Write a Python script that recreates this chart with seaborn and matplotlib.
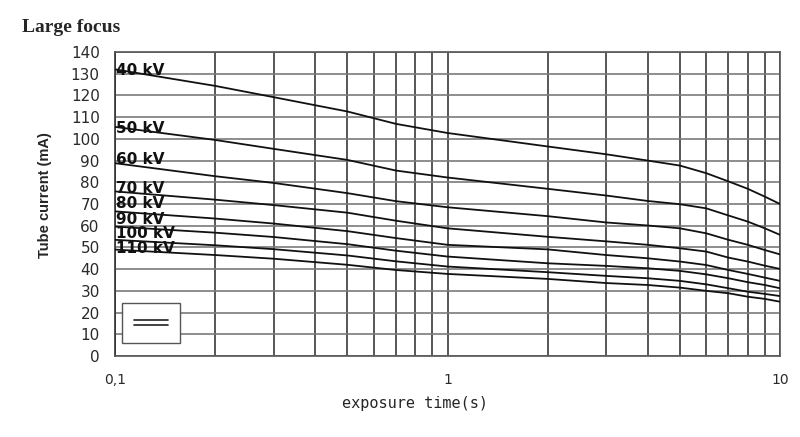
import numpy as np
import pandas as pd
import matplotlib
matplotlib.use("Agg")
import matplotlib.pyplot as plt
from matplotlib.patches import Rectangle
from matplotlib.lines import Line2D
from matplotlib.ticker import FixedLocator, NullFormatter
import seaborn as sns

# exposure time (s) and tube current (mA)
times = [0.1, 0.2, 0.3, 0.5, 0.7, 1, 2, 3, 4, 5, 6, 7, 8, 9, 10]
kv_labels = ["40 kV", "50 kV", "60 kV", "70 kV", "80 kV", "90 kV", "100 kV", "110 kV"]
ma_40 = [132.0, 124.4, 119.2, 112.6, 106.9, 102.7, 96.5, 92.9, 90.0, 87.7, 84.2, 80.4, 77.0, 73.4, 70.0]
ma_50 = [105.5, 99.5, 95.4, 90.3, 85.4, 82.2, 77.0, 73.9, 71.4, 69.9, 68.0, 64.7, 61.9, 58.8, 55.8]
ma_60 = [88.8, 82.8, 79.7, 75.0, 71.3, 68.5, 64.4, 61.5, 60.1, 58.8, 56.5, 53.5, 51.2, 48.8, 46.8]
ma_70 = [75.8, 72.0, 69.5, 66.0, 62.3, 58.8, 54.9, 52.8, 51.2, 49.6, 48.1, 45.3, 43.5, 41.6, 40.1]
ma_80 = [66.6, 63.3, 61.0, 57.5, 54.3, 51.2, 49.1, 46.5, 45.0, 43.5, 41.9, 39.6, 37.8, 36.1, 34.6]
ma_90 = [59.6, 56.8, 54.8, 51.5, 48.5, 45.8, 42.7, 41.5, 40.4, 39.2, 37.6, 35.8, 34.0, 32.7, 31.2]
ma_100 = [53.5, 51.0, 49.2, 46.3, 43.6, 41.2, 38.6, 36.9, 35.8, 34.6, 33.0, 31.2, 29.6, 28.6, 27.6]
ma_110 = [49.0, 46.5, 44.8, 42.0, 39.6, 37.8, 35.5, 33.6, 32.7, 31.5, 30.0, 28.9, 27.3, 26.3, 25.0]
series = [ma_40, ma_50, ma_60, ma_70, ma_80, ma_90, ma_100, ma_110]

y_ticks = list(range(0, 141, 10))
x_major = [0.1, 1, 10]
x_major_labels = ["0,1", "1", "10"]
x_minor = [0.2, 0.3, 0.4, 0.5, 0.6, 0.7, 0.8, 0.9, 2, 3, 4, 5, 6, 7, 8, 9]

# label nudges (mA) relative to the first point of each curve
label_nudge = [-0.5, -0.9, 1.5, 1.2, 3.4, 3.4, 2.7, 0.3]

sns.set_style("white")
plt.rcParams["font.family"] = ["DejaVu Sans"]

rows = []
for name, vals in zip(kv_labels, series):
    for t, v in zip(times, vals):
        rows.append({"time": t, "current": v, "kv": name})
df = pd.DataFrame(rows)

fig = plt.figure(figsize=(8, 4.37), dpi=100)
ax = fig.add_axes([115 / 800, 1 - 356 / 437, 665 / 800, 304 / 437])

sns.lineplot(data=df, x="time", y="current", hue="kv", estimator=None,
             palette={k: "#111111" for k in kv_labels}, legend=False,
             linewidth=1.3, ax=ax, zorder=3)

ax.set_xscale("log")
ax.set_xlim(0.1, 10)
ax.set_ylim(0, 140)
ax.set_yticks(y_ticks)
ax.xaxis.set_major_locator(FixedLocator(x_major))
ax.set_xticklabels(x_major_labels)
ax.xaxis.set_minor_locator(FixedLocator(x_minor))
ax.xaxis.set_minor_formatter(NullFormatter())

ax.grid(True, which="major", axis="y", color="#7a7a7a", linewidth=1.2, zorder=1)
ax.grid(True, which="both", axis="x", color="#3a3a3a", linewidth=1.2, zorder=1)
ax.tick_params(axis="both", which="both", direction="out", length=6, width=1.2,
               color="#555555")
ax.tick_params(axis="y", labelsize=11, pad=5, labelcolor="#2a2a2a")
ax.tick_params(axis="x", labelsize=10, pad=6, labelcolor="#2a2a2a")
for s in ax.spines.values():
    s.set_color("#555555")
    s.set_linewidth(1.2)
ax.spines["left"].set_color("#333333")

for name, vals, dy in zip(kv_labels, series, label_nudge):
    ax.text(0.101, vals[0] + dy, name, fontsize=11, fontweight="bold",
            ha="left", va="center", color="#111111", zorder=4)

# empty legend box in the lower left
ax.add_patch(Rectangle((0.0105, 0.043), 0.0875, 0.131, transform=ax.transAxes,
                       facecolor="white", edgecolor="#555555", linewidth=1, zorder=4))
for yy in (0.118, 0.102):
    ax.add_line(Line2D([0.029, 0.080], [yy, yy], transform=ax.transAxes,
                       color="#222222", linewidth=1.2, zorder=5))

ax.set_xlabel("exposure time(s)", fontsize=11, family="DejaVu Sans Mono")
ax.xaxis.set_label_coords(0.451, -0.132)
ax.set_ylabel("Tube current (mA)", fontsize=10.5, fontweight="bold",
              family="Liberation Sans")
ax.yaxis.set_label_coords(-0.095, 0.53)

fig.text(22 / 800, 1 - 28 / 437, "Large focus", fontsize=14, fontweight="bold",
         family="Liberation Serif", ha="left", va="center")

fig.savefig("out.png", dpi=100)
